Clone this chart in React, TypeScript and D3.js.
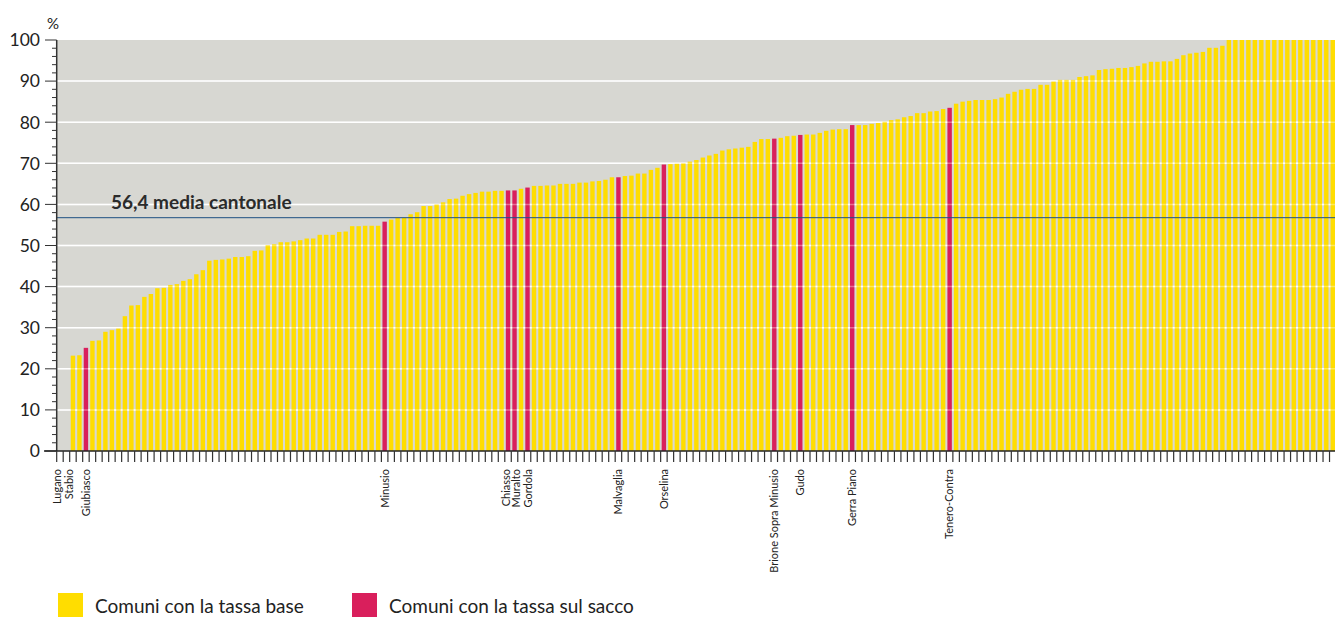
import * as d3 from 'd3';

// quota di raccolta separata per comune, ordinata (%)
const values = [
  0, 0, 23.2, 23.3, 25.1, 26.8, 26.9, 29.0, 29.4, 29.8,
  32.8, 35.4, 35.5, 37.5, 38.2, 39.6, 39.7, 40.4, 40.6, 41.4,
  41.8, 43.0, 44.0, 46.3, 46.5, 46.6, 46.8, 47.2, 47.2, 47.4,
  48.7, 48.8, 50.1, 50.3, 50.8, 50.8, 51.0, 51.3, 51.7, 51.7,
  52.6, 52.6, 52.6, 53.3, 53.4, 54.7, 54.7, 54.8, 54.8, 54.8,
  55.8, 56.3, 56.7, 56.7, 57.6, 58.1, 59.6, 59.6, 60.0, 60.5,
  61.3, 61.4, 62.1, 62.5, 62.8, 63.1, 63.1, 63.3, 63.3, 63.4,
  63.4, 63.8, 64.1, 64.5, 64.5, 64.6, 64.6, 65.0, 65.0, 65.0,
  65.3, 65.3, 65.6, 65.7, 66.0, 66.6, 66.6, 66.9, 67.0, 67.5,
  67.5, 68.4, 68.9, 69.7, 69.8, 69.9, 70.0, 70.4, 70.8, 71.4,
  71.9, 72.3, 73.1, 73.4, 73.6, 73.8, 74.0, 75.2, 75.9, 75.9,
  76.0, 76.2, 76.6, 76.7, 76.9, 77.0, 77.0, 77.4, 77.9, 78.2,
  78.3, 78.3, 79.3, 79.3, 79.3, 79.6, 79.8, 80.1, 80.5, 80.7,
  81.2, 81.5, 82.2, 82.2, 82.6, 82.7, 83.2, 83.5, 84.5, 85.0,
  85.2, 85.4, 85.4, 85.4, 85.6, 86.0, 86.9, 87.4, 87.9, 88.1,
  88.1, 89.1, 89.1, 89.9, 90.3, 90.3, 90.3, 91.0, 91.2, 91.4,
  92.7, 92.9, 93.0, 93.2, 93.2, 93.4, 93.7, 94.3, 94.7, 94.7,
  94.8, 94.8, 95.4, 96.3, 96.7, 96.9, 97.1, 98.1, 98.1, 98.6,
  100, 100, 100, 100, 100, 100, 100, 100, 100, 100,
  100, 100, 100, 100, 100, 100, 100,
];

// comuni con la tassa sul sacco e loro posizione nella classifica
const saccoNames = [
  'Lugano', 'Stabio', 'Giubiasco', 'Minusio', 'Chiasso', 'Muralto', 'Gordola',
  'Malvaglia', 'Orselina', 'Brione Sopra Minusio', 'Gudo', 'Gerra Piano', 'Tenero-Contra',
];
const saccoIndex = [0, 1, 4, 50, 69, 70, 72, 86, 93, 110, 114, 122, 137];

const yTicks = [0, 10, 20, 30, 40, 50, 60, 70, 80, 90, 100];
const media = 56.4;

const legendItems = ['Comuni con la tassa base', 'Comuni con la tassa sul sacco'];

const YELLOW = '#ffdd00';
const RED = '#d91f5c';
const FONT = 'Lato, "Open Sans", sans-serif';

// small nudges so adjacent labels don't sit on top of each other
const nudge: Record<string, number> = { Lugano: -3, Stabio: 3, Chiasso: -2, Muralto: 1.5, Gordola: 1 };

const App = () => {
  const width = 1335;
  const height = 617;
  const left = 56.7;
  const step = 6.494;

  const x = d3
    .scaleBand<number>()
    .domain(d3.range(values.length))
    .range([left, left + step * values.length])
    .paddingInner(0.32)
    .paddingOuter(0.16);
  const y = d3.scaleLinear().domain([0, 100]).range([451, 40]);

  const sacco = new Set(saccoIndex);
  const minor = d3.range(0, 101, 2);
  const xEnd = left + step * values.length;

  return (
    <div style={{ position: 'absolute', left: 0, top: 0 }}>
      <svg width={width} height={height} style={{ display: 'block', fontFamily: FONT }}>
        {/* plot background */}
        <rect x={left} y={y(100)} width={xEnd - left} height={y(0) - y(100)} fill="#d7d7d2" />
        {yTicks.slice(1, -1).map((t) => (
          <line key={t} x1={left} x2={xEnd} y1={y(t)} y2={y(t)} stroke="#fff" strokeWidth={1.5} />
        ))}

        {/* bars */}
        {values.map((v, i) => (
          <rect
            key={i}
            x={x(i)}
            y={y(v)}
            width={x.bandwidth()}
            height={y(0) - y(v)}
            fill={sacco.has(i) ? RED : YELLOW}
          />
        ))}

        {/* gridlines showing through */}
        {yTicks.slice(1, -1).map((t) => (
          <line key={t} x1={left} x2={xEnd} y1={y(t)} y2={y(t)} stroke="#fff" strokeOpacity={0.35} strokeWidth={1.5} />
        ))}

        {/* media cantonale */}
        <line x1={left} x2={xEnd} y1={y(media) - 1.5} y2={y(media) - 1.5} stroke="#1d4f82" strokeWidth={1} />
        <text x={111} y={y(media) - 10} fontSize={19} fontWeight={700} fill="#2b2b2b">
          56,4 media cantonale
        </text>

        {/* y axis */}
        <line x1={left} x2={left} y1={y(100)} y2={y(0)} stroke="#333" strokeWidth={1.5} />
        {minor.map((t) => (
          <line
            key={t}
            x1={t % 10 === 0 ? 45 : 52}
            x2={left}
            y1={y(t)}
            y2={y(t)}
            stroke="#333"
            strokeWidth={1}
          />
        ))}
        {yTicks.map((t) => (
          <text key={t} x={40} y={y(t)} dy="0.36em" textAnchor="end" fontSize={17.5} fill="#222">
            {t}
          </text>
        ))}
        <text x={47} y={29} fontSize={15} fill="#222">
          %
        </text>

        {/* x axis */}
        <line x1={44} x2={xEnd} y1={y(0)} y2={y(0)} stroke="#222" strokeWidth={1.5} />
        {d3.range(values.length + 1).map((k) => (
          <line
            key={k}
            x1={left + k * step}
            x2={left + k * step}
            y1={y(0)}
            y2={y(0) + 11}
            stroke="#333"
            strokeWidth={1.2}
          />
        ))}
        {saccoIndex.map((idx, i) => {
          const name = saccoNames[i];
          const cx = (x(idx) ?? 0) + x.bandwidth() / 2 + (nudge[name] ?? 0);
          return (
            <text
              key={name}
              transform={`translate(${cx},469) rotate(-90)`}
              dy="0.35em"
              textAnchor="end"
              fontSize={11}
              fill="#222"
            >
              {name}
            </text>
          );
        })}

        {/* legend */}
        {legendItems.map((label, i) => {
          const lx = i === 0 ? 58 : 352;
          return (
            <g key={label} transform={`translate(${lx},593)`}>
              <rect width={25} height={24} fill={i === 0 ? YELLOW : RED} />
              <text x={37} y={20} fontSize={19} fill="#222">
                {label}
              </text>
            </g>
          );
        })}
      </svg>
    </div>
  );
};

export default App;
